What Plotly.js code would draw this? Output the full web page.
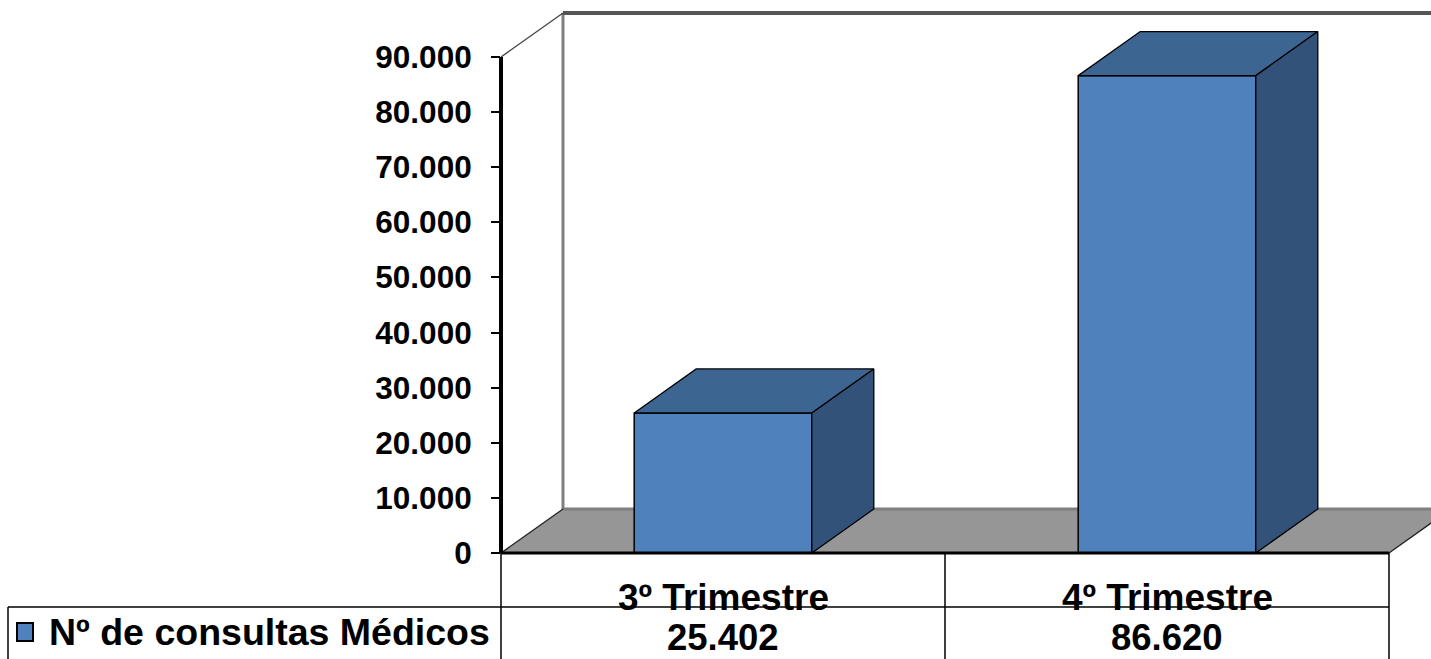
<!DOCTYPE html>
<html>
<head>
<meta charset="utf-8">
<script src="https://cdn.plot.ly/plotly-3.0.1.min.js"></script>
<style>html,body{margin:0;padding:0;background:#fff;}#chart{width:1431px;height:659px;}</style>
</head>
<body>
<div id="chart"></div>
<script>
// ---- data ----
const categories = ['3º Trimestre', '4º Trimestre'];
const values = [25402, 86620];
const seriesName = 'Nº de consultas Médicos';
const yTickVals = [0, 10000, 20000, 30000, 40000, 50000, 60000, 70000, 80000, 90000];

// ---- geometry / style ----
const W = 1431, H = 659;
const M = {l: 501, r: 0, t: 5, b: 106};
const plotW = W - M.l - M.r, plotH = H - M.t - M.b;
const xRange = [-0.5, -0.5 + plotW * 2 / 888];
const yMaxTick = 90000;
const yRange = [0, yMaxTick * plotH / 496];
const barW = 0.4;
const dx = 62 * 2 / 888;     // depth in category units
const dy = 8000;             // depth in value units
const FONT = 'Liberation Sans, Arial, sans-serif';
const cFront = '#4F81BD', cTop = '#3D6592', cSide = '#33527A';

const px = d => (d - xRange[0]) / (xRange[1] - xRange[0]);   // data x -> paper
const py = v => (v - yRange[0]) / (yRange[1] - yRange[0]);   // data y -> paper
const ppx = p => (p - M.l) / plotW;                           // pixel x -> paper
const ppy = p => (H - M.b - p) / plotH;                       // pixel y -> paper
const fmt = v => String(v).replace(/\B(?=(\d{3})+(?!\d))/g, '.');

const xIdx = categories.map((c, i) => i);
const traces = [];

// front faces
traces.push({
  type: 'bar', x: xIdx, y: values, width: barW, name: seriesName,
  marker: {color: cFront, line: {color: '#000', width: 1.5}},
  hoverinfo: 'skip', showlegend: false
});
// top and side faces
values.forEach((v, i) => {
  const x0 = i - barW / 2, x1 = i + barW / 2;
  traces.push({
    type: 'scatter', mode: 'lines', fill: 'toself', fillcolor: cTop,
    x: [x0, x1, x1 + dx, x0 + dx, x0], y: [v, v, v + dy, v + dy, v],
    line: {color: '#000', width: 1.3}, hoverinfo: 'skip', showlegend: false
  });
  traces.push({
    type: 'scatter', mode: 'lines', fill: 'toself', fillcolor: cSide,
    x: [x1, x1 + dx, x1 + dx, x1, x1], y: [0, dy, v + dy, v, 0],
    line: {color: '#000', width: 1.3}, hoverinfo: 'skip', showlegend: false
  });
});

const line = (x0, y0, x1, y1, color, width, layer, dash) => ({
  type: 'line', xref: 'paper', yref: 'paper', x0, y0, x1, y1, layer: layer || 'above',
  line: {color, width, dash: dash || 'solid'}
});

const xL = xRange[0], xR = xRange[0] + 2; // front axis extent (-0.5 .. 1.5)
const shapes = [
  // floor
  {type: 'path', xref: 'paper', yref: 'paper', layer: 'below',
   path: `M${px(xL)},${py(0)} L${px(xL + dx)},${py(dy)} L${px(xR + dx)},${py(dy)} L${px(xR)},${py(0)} Z`,
   fillcolor: '#969696', line: {width: 0}},
  // back walls
  line(px(xL + dx), py(dy), px(xR + dx + 0.1), py(dy), '#7F7F7F', 3, 'below'),
  line(px(xL + dx), py(dy), px(xL + dx), py(yMaxTick + dy), '#7F7F7F', 3, 'below'),
  line(px(xL + dx), py(yMaxTick + dy), px(xR + dx + 0.1), py(yMaxTick + dy), '#555555', 4, 'below'),
  // diagonals
  line(px(xL), py(0), px(xL + dx), py(dy), '#222', 1.3, 'below'),
  line(px(xL), py(yMaxTick), px(xL + dx), py(yMaxTick + dy), '#444', 1.3, 'below'),
  line(px(xR), py(0), px(xR + dx), py(dy), '#222', 1.3, 'below'),
  // axes
  line(px(xL), py(0), px(xL), py(yMaxTick), '#000', 4),
  line(px(xL), py(0), px(xR), py(0), '#000', 3),
  // data table grid
  line(ppx(8), ppy(607), px(xR), ppy(607), '#000', 1.5),
  line(ppx(8), ppy(607), ppx(8), ppy(665), '#000', 1.5),
  line(px(xL), py(0), px(xL), ppy(665), '#000', 1.5),
  line(px(xL + 1), py(0), px(xL + 1), ppy(665), '#000', 1.5),
  line(px(xR), py(0), px(xR), ppy(665), '#000', 1.5),
  // legend key
  {type: 'rect', xref: 'paper', yref: 'paper', x0: ppx(17), x1: ppx(33), y0: ppy(641), y1: ppy(623),
   fillcolor: cFront, line: {color: '#000', width: 2}}
];

const annotations = [];
categories.forEach((c, i) => {
  annotations.push({xref: 'x', yref: 'paper', x: i, y: ppy(597), text: c, showarrow: false,
    xanchor: 'center', yanchor: 'middle', font: {family: FONT, size: 37, weight: 'bold', color: '#000'}});
  annotations.push({xref: 'x', yref: 'paper', x: i, y: ppy(637), text: fmt(values[i]), showarrow: false,
    xanchor: 'center', yanchor: 'middle', font: {family: FONT, size: 36.5, weight: 'bold', color: '#000'}});
});
annotations.push({xref: 'paper', yref: 'paper', x: ppx(47), y: ppy(632), text: seriesName, showarrow: false,
  xanchor: 'left', yanchor: 'middle', font: {family: FONT, size: 37.5, weight: 'bold', color: '#000'}});

const layout = {
  width: W, height: H, margin: M,
  paper_bgcolor: '#fff', plot_bgcolor: 'rgba(0,0,0,0)',
  separators: ',.',
  showlegend: false,
  xaxis: {range: xRange, showgrid: false, zeroline: false, showline: false, showticklabels: false,
          ticks: '', fixedrange: true},
  yaxis: {range: yRange, tickvals: yTickVals, tickformat: ',d', showgrid: false, zeroline: false,
          showline: false, ticks: 'outside', ticklen: 9, tickwidth: 2, tickcolor: '#000',
          ticklabelstandoff: 13,
          tickfont: {family: FONT, size: 31.5, weight: 'bold', color: '#000'}, fixedrange: true},
  shapes, annotations
};

Plotly.newPlot('chart', traces, layout, {displayModeBar: false, staticPlot: true});
</script>
</body>
</html>
